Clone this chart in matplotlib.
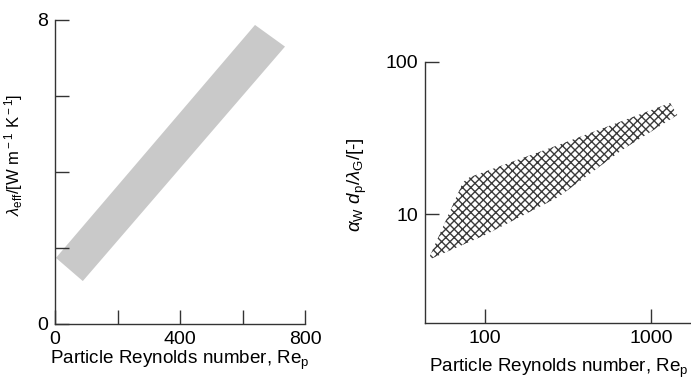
import numpy as np
import matplotlib.pyplot as plt

plt.rcParams.update({
    "font.family": "Liberation Sans",
    "font.size": 14,
    "mathtext.fontset": "custom",
    "mathtext.rm": "Liberation Sans",
    "mathtext.it": "Liberation Sans:italic",
    "hatch.linewidth": 1.0,
})

# left panel: effective conductivity band (corners of the grey band)
band_re = [3, 89, 736, 640]
band_lam = [1.74, 1.13, 7.30, 7.87]

# right panel: wall heat transfer region (outline of the hatched area)
wall_re = [45.4, 73.6, 81, 275, 1300, 1435, 668, 275, 100]
wall_nu = [4.98, 16.2, 17.5, 28.4, 53.8, 44.8, 26.4, 12.9, 7.28]

spine_col = "#333333"

fig = plt.figure(figsize=(6.91, 3.86), dpi=100)

ax1 = fig.add_axes([55/691, 62/386, 250/691, 304/386])
ax1.fill(band_re, band_lam, color="#c9c9c9", lw=0)
ax1.set_xlim(0, 800)
ax1.set_ylim(0, 8)
ax1.set_xticks([0, 200, 400, 600, 800])
ax1.set_xticklabels(["0", "", "400", "", "800"])
ax1.set_yticks([0, 2, 4, 6, 8])
ax1.set_yticklabels(["0", "", "", "", "8"])
ax1.set_xlabel("Particle Reynolds number, Re$_{\\rm p}$", fontsize=13.6)
ax1.xaxis.set_label_coords(0.5, -0.082)
ax1.set_ylabel(r"$\lambda_{\rm eff}$/[W m$^{\rm -1}$ K$^{\rm -1}$]", fontsize=12)
ax1.yaxis.set_label_coords(-0.12, 0.556)

ax2 = fig.add_axes([425/691, 63/386, 267/691, 261/386])
ax2.set_xscale("log")
ax2.set_yscale("log")
ax2.fill(wall_re, wall_nu, facecolor="none", edgecolor="#3a3a3a", hatch="xxxx", lw=0)
ax2.set_xlim(43.5, 1760)
ax2.set_ylim(1.92, 100)
ax2.set_xticks([100, 1000])
ax2.set_xticklabels(["100", "1000"])
ax2.set_yticks([10, 100])
ax2.set_yticklabels(["10", "100"])
ax2.minorticks_off()
ax2.set_xlabel("Particle Reynolds number, Re$_{\\rm p}$", fontsize=13.6)
ax2.xaxis.set_label_coords(0.5, -0.128)
ax2.set_ylabel(r"$\alpha_{\rm W}\ d_{\rm p}/\lambda_{\rm G}$/[-]", fontsize=13.5)
ax2.yaxis.set_label_coords(-0.21, 0.53)

for ax in (ax1, ax2):
    ax.spines["top"].set_visible(False)
    ax.spines["right"].set_visible(False)
    for s in ("left", "bottom"):
        ax.spines[s].set_color(spine_col)
        ax.spines[s].set_linewidth(1.0)
    ax.tick_params(direction="in", length=10, width=1.0, color=spine_col, pad=5)
    ax.set_facecolor("none")

fig.savefig("out.png", dpi=100)
